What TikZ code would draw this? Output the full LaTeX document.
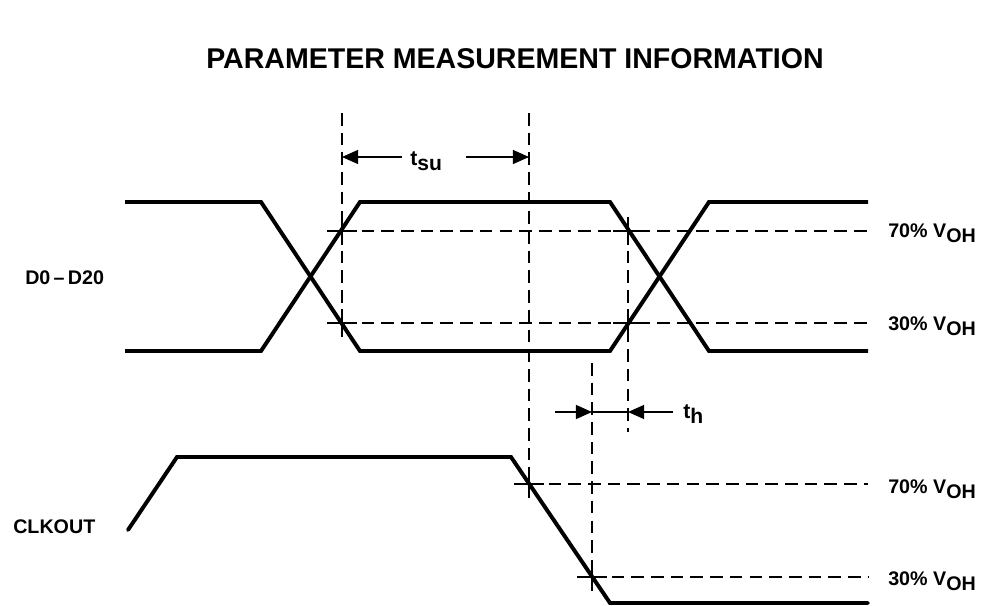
\documentclass[tikz,border=0pt]{standalone}
\usepackage{fontspec}
\setmainfont{Liberation Sans}
\usepackage{xcolor}
\usetikzlibrary{arrows.meta}

% level text with a lowered index, e.g. V OH
\newcommand{\lowsub}[2]{#1\raisebox{-4pt}{#2}}

\begin{document}
\begin{tikzpicture}[x=0.025cm, y=-0.025cm,
  sig/.style={line width=2.8pt},
  guide/.style={line width=1pt, dash pattern=on 9pt off 5pt},
  crossmark/.style={line width=1.5pt},
  dimarrow/.style={line width=1pt, -{Triangle[length=11.5pt,width=10pt]}},
  lbl/.style={font=\bfseries\fontsize{14}{16}\selectfont, inner sep=0pt, anchor=base west}]
\useasboundingbox (0,0) rectangle (984,605);

\node[font=\bfseries\fontsize{20.3}{24}\selectfont, inner sep=0pt, anchor=base] (title) at (515,68) {PARAMETER MEASUREMENT INFORMATION};

% crossing points and guide limits
\coordinate (d70a) at (342,231);
\coordinate (d30a) at (342,323);
\coordinate (d70b) at (628,231);
\coordinate (d30b) at (628,323);
\coordinate (c70) at (529,484);
\coordinate (c30) at (592,577);
\coordinate (redge) at (868,0);
\coordinate (top) at (0,113);
\coordinate (thtop) at (0,363);
\coordinate (thbot) at (0,432);

% D0-D20
\draw[sig] (125,202) -- (261,202) -- (360,351) -- (610,351) -- (709,202) -- (868,202);
\draw[sig] (125,351) -- (261,351) -- (360,202) -- (610,202) -- (709,351) -- (868,351);
% CLKOUT
\draw[sig, line cap=round] (128,530) -- (177,457) -- (511,457) -- (610,603) -- (868,603);

% dashed guides
\draw[guide] (d70a) -- (d70a -| redge);
\draw[guide] (d30a) -- (d30a -| redge);
\draw[guide] (c70) -- (c70 -| redge);
\draw[guide] (c30) -- (c30 -| redge);
\draw[guide] (d70a |- top) -- (d30a);
\draw[guide] (c70 |- top) -- (c70);
\draw[guide] (d70b) -- (d70b |- thbot);
\draw[guide] (c30 |- thtop) -- (c30);

\foreach \p in {d70a,d30a,d70b,d30b,c70,c30}
  \draw[crossmark] (\p) +(-15,0) -- +(15,0) +(0,-14) -- +(0,14);

% setup and hold
\coordinate (tsuL) at (402,157);
\coordinate (tsuR) at (466,157);
\draw[dimarrow] (tsuL) -- (tsuL -| d70a);
\draw[dimarrow] (tsuR) -- (tsuR -| c70);
\node[lbl, font=\bfseries\fontsize{15}{17}\selectfont] (tsu) at (410,165) {\lowsub{t}{su}};

\coordinate (thL) at (555,412);
\coordinate (thR) at (673,412);
\draw[dimarrow] (thL) -- (thL -| c30);
\draw[line width=1pt] (thL -| c30) -- (thL -| d70b);
\draw[dimarrow] (thR) -- (thR -| d70b);
\node[lbl, font=\bfseries\fontsize{15}{17}\selectfont] (th) at (683,418) {\lowsub{t}{h}};

% signal names and levels
\node[lbl] (data) at (25,284) {D0\,--\,D20};
\node[lbl] (clk) at (13,533) {CLKOUT};
\node[lbl] (hi1) at (888,237) {70\% \lowsub{V}{OH}};
\node[lbl] (lo1) at (888,330) {30\% \lowsub{V}{OH}};
\node[lbl] (hi2) at (888,493) {70\% \lowsub{V}{OH}};
\node[lbl] (lo2) at (888,585) {30\% \lowsub{V}{OH}};
\end{tikzpicture}
\end{document}
